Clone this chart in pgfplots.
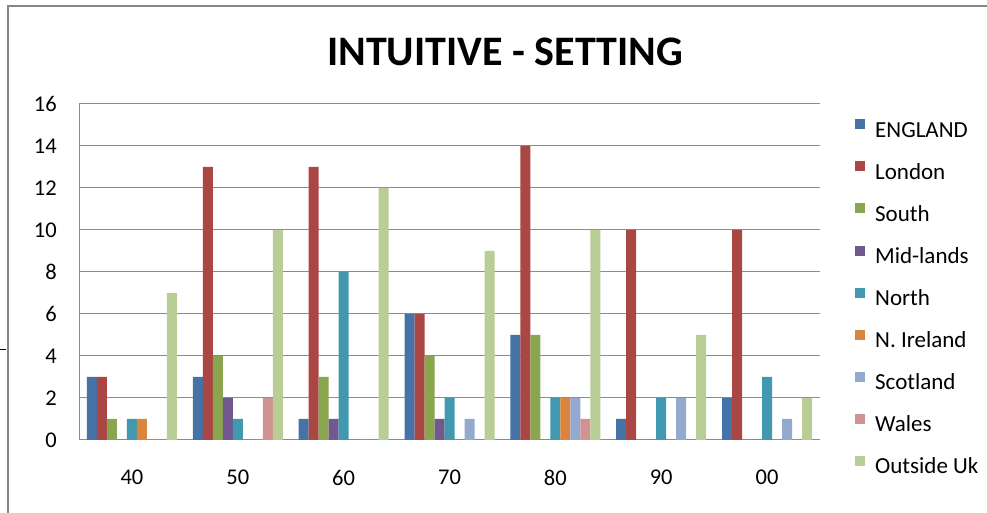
\documentclass[border=0pt]{standalone}
\usepackage{pgfplots}
\pgfplotsset{compat=1.18}
\usepackage{fontspec}
\setmainfont{Carlito}
\definecolor{cEng}{HTML}{4572A7}
\definecolor{cLon}{HTML}{AA4643}
\definecolor{cSou}{HTML}{89A54E}
\definecolor{cMid}{HTML}{71588F}
\definecolor{cNor}{HTML}{4198AF}
\definecolor{cNIr}{HTML}{DB843D}
\definecolor{cSco}{HTML}{93A9CF}
\definecolor{cWal}{HTML}{D19392}
\definecolor{cOut}{HTML}{B9CD96}
\definecolor{gridGray}{HTML}{8C8C8C}
\definecolor{frameGray}{HTML}{868686}
\begin{document}
\begin{tikzpicture}[x=1bp,y=1bp]
\useasboundingbox (0,0) rectangle (987,513);
\draw[color=frameGray, line width=2bp] (8,507) rectangle (1010,-20);
\draw[black, line width=1bp] (0,163) -- (6,163);
\node[font=\fontsize{42bp}{48bp}\selectfont\bfseries] at (505,461) {INTUITIVE - SETTING};
\begin{axis}[
  at={(79bp,73bp)}, anchor=south west,
  scale only axis, width=741bp, height=336bp,
  ybar=0pt, bar width=10bp,
  xmin=-0.5, xmax=6.5, ymin=0, ymax=16,
  ytick={0,2,...,16}, xtick={0,...,6},
  xticklabels={40,50,60,70,80,90,00},
  ymajorgrids, major grid style={color=gridGray, line width=1bp},
  axis x line*=bottom, axis y line*=left,
  axis line style={gridGray, line width=1bp, -},
  major tick length=0pt,
  /pgf/number format/assume math mode=true,
  tick label style={font=\fontsize{22.5bp}{27bp}\selectfont, black},
  yticklabel style={anchor=east, inner sep=0pt, xshift=-22bp},
  xticklabel style={anchor=north, inner sep=0pt, yshift=-30bp},
  legend image code/.code={\fill[#1] (0bp,2.4bp) rectangle (10bp,12.4bp);},
  legend cell align=left,
  legend style={at={(1.0472,0.4193)}, anchor=west, draw=none, fill=none,
    inner sep=0pt, column sep=10bp, row sep=19.2bp,
    font=\fontsize{23bp}{27bp}\selectfont,
    nodes={inner sep=0pt, text height=16bp, text depth=5bp}},
]
\addplot[fill=cEng, draw=none] coordinates {(0,3) (1,3) (2,1) (3,6) (4,5) (5,1) (6,2)};
\addplot[fill=cLon, draw=none] coordinates {(0,3) (1,13) (2,13) (3,6) (4,14) (5,10) (6,10)};
\addplot[fill=cSou, draw=none] coordinates {(0,1) (1,4) (2,3) (3,4) (4,5) (5,0) (6,0)};
\addplot[fill=cMid, draw=none] coordinates {(0,0) (1,2) (2,1) (3,1) (4,0) (5,0) (6,0)};
\addplot[fill=cNor, draw=none] coordinates {(0,1) (1,1) (2,8) (3,2) (4,2) (5,2) (6,3)};
\addplot[fill=cNIr, draw=none] coordinates {(0,1) (1,0) (2,0) (3,0) (4,2) (5,0) (6,0)};
\addplot[fill=cSco, draw=none] coordinates {(0,0) (1,0) (2,0) (3,1) (4,2) (5,2) (6,1)};
\addplot[fill=cWal, draw=none] coordinates {(0,0) (1,2) (2,0) (3,0) (4,1) (5,0) (6,0)};
\addplot[fill=cOut, draw=none] coordinates {(0,7) (1,10) (2,12) (3,9) (4,10) (5,5) (6,2)};
\legend{ENGLAND, London, South, Mid-lands, North, N. Ireland, Scotland, Wales, Outside Uk}
\end{axis}
\end{tikzpicture}
\end{document}
